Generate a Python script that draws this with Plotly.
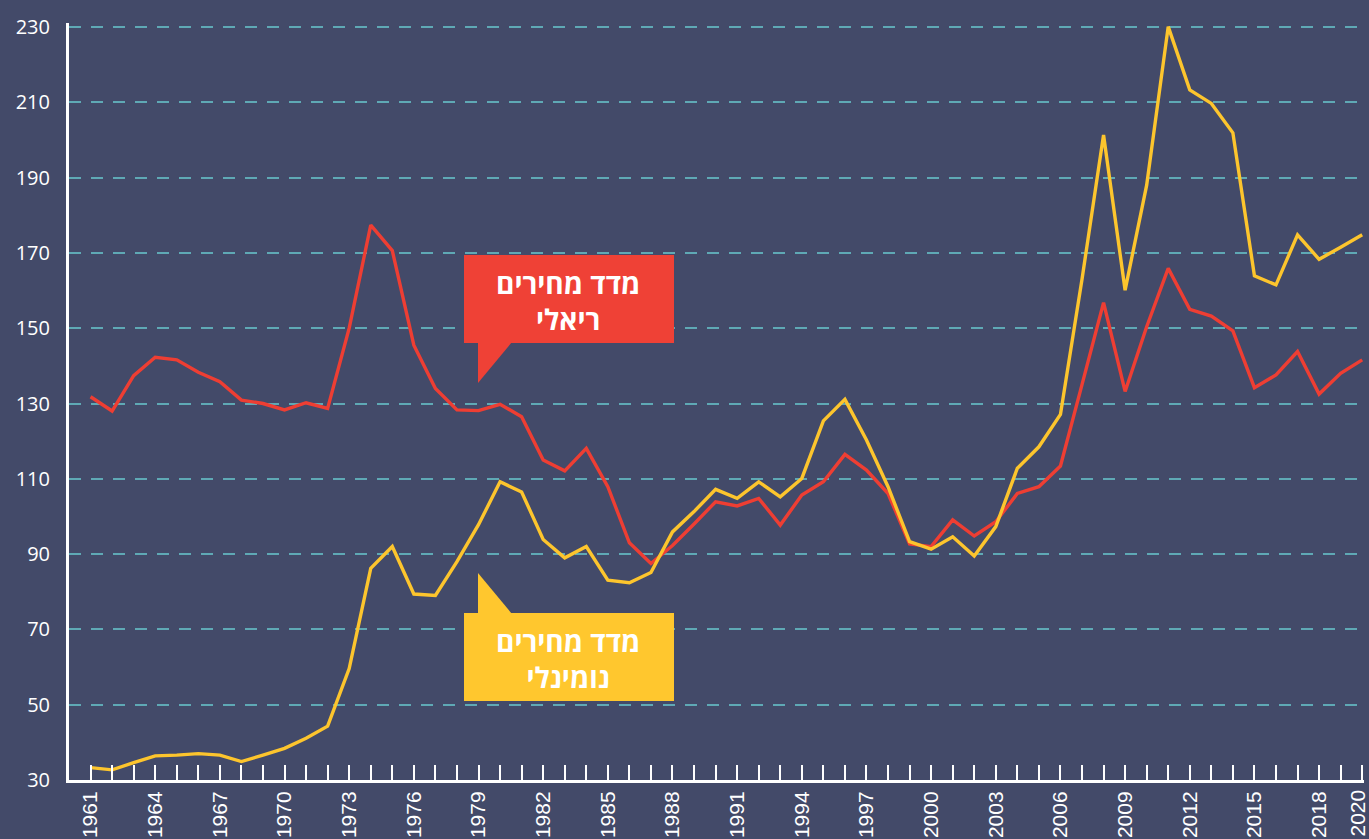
import plotly.graph_objects as go

years = list(range(1961, 2021))

real_index = [131.8, 128.0, 137.4, 142.3, 141.6, 138.3, 135.8, 130.9, 130.0, 128.3,
              130.2, 128.7, 150.0, 177.4, 170.6, 145.5, 134.0, 128.3, 128.1, 129.8,
              126.5, 115.0, 112.1, 118.1, 107.9, 93.0, 87.5, 92.3, 98.0, 103.9,
              102.8, 104.8, 97.7, 105.7, 109.2, 116.5, 112.3, 106.1, 92.7, 92.0,
              99.1, 94.8, 98.6, 106.1, 107.9, 113.4, 135.0, 156.8, 133.2, 150.4,
              165.9, 155.0, 153.2, 149.3, 134.2, 137.6, 143.8, 132.5, 138.0, 141.6]

nominal_index = [33.3, 32.7, 34.6, 36.4, 36.6, 37.0, 36.6, 34.9, 36.6, 38.4,
                 41.1, 44.3, 59.6, 86.2, 92.0, 79.4, 79.0, 88.0, 97.8, 109.2,
                 106.5, 93.9, 89.0, 92.0, 83.1, 82.4, 85.1, 95.9, 101.3, 107.2,
                 104.8, 109.2, 105.2, 110.1, 125.4, 131.1, 120.3, 107.9, 93.3, 91.3,
                 94.6, 89.5, 97.3, 112.8, 118.5, 127.1, 163.0, 201.3, 160.1, 188.0,
                 230.1, 213.3, 209.7, 201.9, 163.9, 161.5, 174.8, 168.3, 171.5, 174.8]

# every third year labelled on the axis; the final year (2020) is labelled
# separately so that it can sit inside the right edge as in the original
x_labels = [str(y) if (y - 1961) % 3 == 0 else "" for y in years]
last_year_label = str(years[-1])
y_ticks = list(range(30, 231, 20))

real_label = "<b>מדד מחירים<br>ריאלי</b>"
nominal_label = "<b>מדד מחירים<br>נומינלי</b>"

BG = "#434a69"
RED = "#ee3e33"
YELLOW = "#fdc52d"
RED_BOX = "#ef4136"
YELLOW_BOX = "#ffc72e"
GRID = "#5fa9b5"
TICK_FONT = dict(family="Liberation Sans, Arial, sans-serif", size=21, color="white")

W, H = 1369, 839
L, R, T, B = 69, 5, 23, 59
PW, PH = W - L - R, H - T - B
PX_PER_YEAR = (1362.2 - L) / 60
X_END = 1960 + PW / PX_PER_YEAR
Y_TOP = 30 + (H - B - T) / 3.765


def px(xp):
    return (xp - L) / PW


def py(yp):
    return (H - B - yp) / PH


fig = go.Figure()
fig.add_trace(go.Scatter(x=years, y=real_index, mode="lines",
                         line=dict(color=RED, width=3.4), hoverinfo="x+y", showlegend=False))
fig.add_trace(go.Scatter(x=years, y=nominal_index, mode="lines",
                         line=dict(color=YELLOW, width=3.4), hoverinfo="x+y", showlegend=False))

shapes = []
# red callout
shapes.append(dict(type="rect", xref="paper", yref="paper",
                   x0=px(464), x1=px(674), y0=py(343), y1=py(255),
                   fillcolor=RED_BOX, line=dict(width=0), layer="above"))
shapes.append(dict(type="path", xref="paper", yref="paper",
                   path=f"M {px(478)},{py(342)} L {px(512)},{py(342)} L {px(478)},{py(383)} Z",
                   fillcolor=RED_BOX, line=dict(width=0), layer="above"))
# yellow callout
shapes.append(dict(type="rect", xref="paper", yref="paper",
                   x0=px(464), x1=px(674), y0=py(701), y1=py(613),
                   fillcolor=YELLOW_BOX, line=dict(width=0), layer="above"))
shapes.append(dict(type="path", xref="paper", yref="paper",
                   path=f"M {px(478)},{py(614)} L {px(512)},{py(614)} L {px(478)},{py(573)} Z",
                   fillcolor=YELLOW_BOX, line=dict(width=0), layer="above"))

annotations = [
    dict(xref="paper", yref="paper", x=px(568), y=py(301), text=real_label,
         showarrow=False, align="center", xanchor="center", yanchor="middle",
         font=dict(family="Open Sans, DejaVu Sans, sans-serif", size=28, color="white")),
    dict(xref="paper", yref="paper", x=px(568), y=py(659), text=nominal_label,
         showarrow=False, align="center", xanchor="center", yanchor="middle",
         font=dict(family="Open Sans, DejaVu Sans, sans-serif", size=28, color="white")),
    dict(xref="paper", yref="paper", x=px(1357), y=py(788), text=last_year_label,
         textangle=-90, showarrow=False, xanchor="center", yanchor="top",
         font=TICK_FONT),
]

fig.update_layout(
    width=W, height=H,
    margin=dict(l=L, r=R, t=T, b=B, pad=0, autoexpand=False),
    paper_bgcolor=BG, plot_bgcolor=BG,
    shapes=shapes, annotations=annotations,
    showlegend=False,
    xaxis=dict(
        range=[1960, X_END], tickmode="array", tickvals=years, ticktext=x_labels,
        tickangle=-90, ticks="inside", ticklen=15, tickwidth=2, tickcolor="white",
        ticklabeloverflow="allow", automargin=False,
        showgrid=False, zeroline=False, showline=True, linecolor="white", linewidth=3,
        tickfont=TICK_FONT,
        fixedrange=True,
    ),
    yaxis=dict(
        range=[30, Y_TOP], tickmode="array", tickvals=y_ticks, automargin=False,
        ticks="", showgrid=True, gridcolor=GRID, gridwidth=2, griddash="12px,10px",
        zeroline=False, showline=True, linecolor="white", linewidth=3,
        ticklabelstandoff=12,
        tickfont=dict(family="Open Sans, sans-serif", size=20, color="white"),
        fixedrange=True,
    ),
)

fig.write_html("out.html", config={"displayModeBar": False},
               post_script="document.body.style.margin='0';document.body.style.overflow='hidden';")
